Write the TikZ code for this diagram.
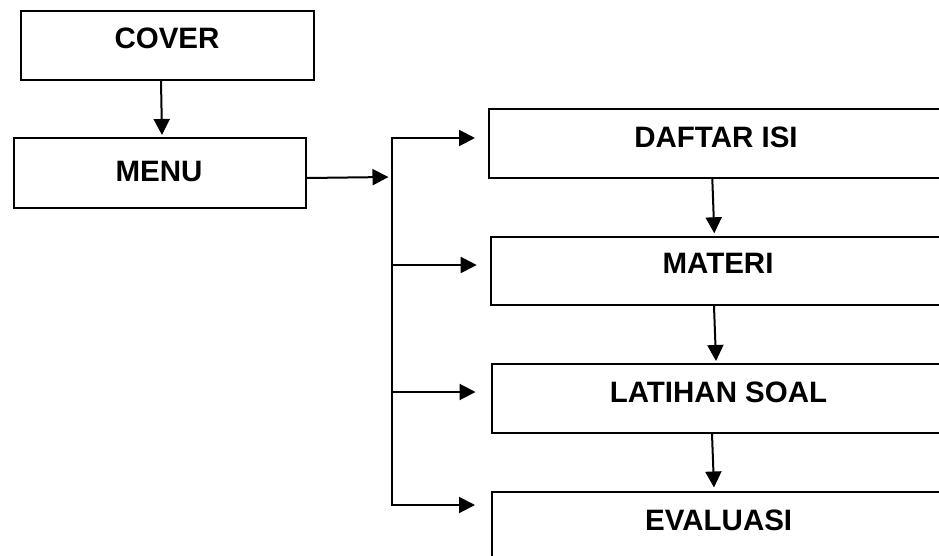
\documentclass[tikz,border=0pt]{standalone}
\usepackage{fontspec}
\setmainfont{Liberation Sans}
\usetikzlibrary{arrows.meta}
\begin{document}
\begin{tikzpicture}[x=1pt,y=-1pt,
  box/.style={draw=black, line width=2pt, fill=white, anchor=north west, inner sep=0pt},
  lbl/.style={font=\fontsize{29.5}{31}\selectfont\bfseries, inner sep=0pt, text=black},
  arr/.style={line width=2pt, -{Triangle[length=16pt,width=16pt]}},
  busline/.style={line width=2pt, line cap=rect}]
\useasboundingbox (0,0) rectangle (939,556);
\clip (0,0) rectangle (939,556);
% boxes
\node[box, minimum width=293pt, minimum height=69pt] (cover) at (20,10) {};
\node[box, minimum width=292pt, minimum height=70pt] (menu) at (13,137) {};
\node[box, minimum width=520pt, minimum height=69pt] (daftar) at (488,108) {};
\node[box, minimum width=520pt, minimum height=68pt] (materi) at (490,236) {};
\node[box, minimum width=520pt, minimum height=69pt] (latihan) at (491,363) {};
\node[box, minimum width=520pt, minimum height=80pt] (evaluasi) at (491,491) {};
% labels
\node[lbl] (tcover) at (167,38.5) {COVER};
\node[lbl] (tmenu) at (159,171) {MENU};
\node[lbl] (tdaftar) at (716,137) {DAFTAR ISI};
\node[lbl] (tmateri) at (718,263.5) {MATERI};
\node[lbl] (tlatihan) at (718.5,392) {LATIHAN SOAL};
\node[lbl] (tevaluasi) at (718.7,520) {EVALUASI};
% bus coordinates
\coordinate (mtip) at (388.5,177);
\coordinate (b1) at (392,138);
\coordinate (b2) at (392,265);
\coordinate (b3) at (392,392);
\coordinate (b4) at (392,505);
% connectors
\draw[arr] ([xshift=141pt]cover.south west) -- ([xshift=149pt,yshift=2pt]menu.north west);
\draw[arr] ([yshift=-5pt]menu.east) -- (mtip);
\draw[busline] (b1) -- (b4);
\draw[arr] (b1) -- ([xshift=-13pt,yshift=-30pt]daftar.north west);
\draw[arr] (b2) -- ([xshift=-13.3pt,yshift=-29pt]materi.north west);
\draw[arr] (b3) -- ([xshift=-15.5pt,yshift=-29pt]latihan.north west);
\draw[arr] (b4) -- ([xshift=-16pt,yshift=-14pt]evaluasi.north west);
\draw[arr] ([xshift=224.3pt]daftar.south west) -- ([xshift=224.3pt,yshift=2.7pt]materi.north west);
\draw[arr] ([xshift=224pt]materi.south west) -- ([xshift=225pt,yshift=2pt]latihan.north west);
\draw[arr] ([xshift=221pt]latihan.south west) -- ([xshift=223pt,yshift=3.5pt]evaluasi.north west);
\end{tikzpicture}
\end{document}
